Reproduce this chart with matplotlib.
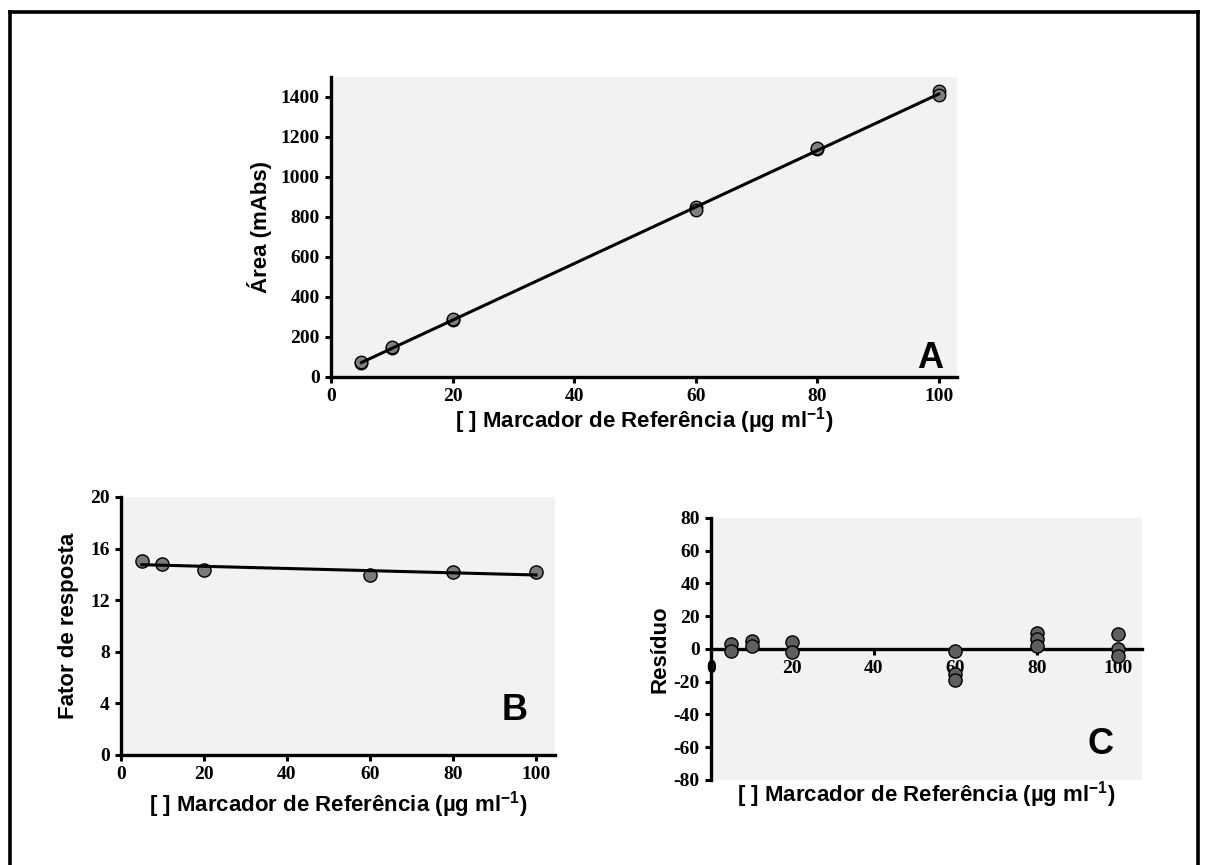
import matplotlib.pyplot as plt
from matplotlib.lines import Line2D

plt.rcParams["axes.unicode_minus"] = False
plt.rcParams["mathtext.fontset"] = "custom"
plt.rcParams["mathtext.bf"] = "Liberation Sans:bold"
plt.rcParams["mathtext.rm"] = "Liberation Sans:bold"
plt.rcParams["mathtext.default"] = "bf"

# Panel A: calibration curve
conc_a = [5, 5, 10, 10, 20, 20, 60, 60, 80, 80, 100, 100]
area_a = [72, 76, 145, 150, 285, 289, 852, 833, 1140, 1144, 1432, 1410]
fit_a_x = [5, 100]
fit_a_y = [72, 1415]

# Panel B: response factor
conc_b = [5, 10, 20, 60, 80, 100]
factor_b = [15.0, 14.82, 14.32, 13.95, 14.22, 14.15]
fit_b_x = [5, 100]
fit_b_y = [14.75, 13.95]

# Panel C: residuals
conc_c = [5, 5, 10, 10, 20, 20, 60, 60, 60, 80, 80, 80, 100, 100, 100]
resid_c = [3, -1, 5, 2, 4, -2, -1.5, -15, -19, 10, 6, 2, 9, 0, -4]

XLABEL = r"[ ] Marcador de Referência (µg ml$^{-1}$)"
TICK_FONT = dict(family="Liberation Serif", weight="bold", size=14)
LABEL_FONT = dict(family="Liberation Sans", weight="bold", size=16)
LETTER_FONT = dict(family="Liberation Sans", weight="bold", size=26)
BG = "#f2f2f2"


def style_axes(ax):
    ax.set_facecolor(BG)
    for side in ["top", "right"]:
        ax.spines[side].set_visible(False)
    for side in ["left", "bottom"]:
        ax.spines[side].set_linewidth(2.4)
    ax.tick_params(direction="out", length=4, width=2.2, pad=4)
    for lbl in ax.get_xticklabels() + ax.get_yticklabels():
        lbl.set_fontfamily(TICK_FONT["family"])
        lbl.set_fontweight(TICK_FONT["weight"])
        lbl.set_fontsize(TICK_FONT["size"])


fig = plt.figure(figsize=(12.05, 8.65), dpi=100)

# page border
for xs, ys in [([10, 10], [0, 853]), ([10, 1198], [853, 853]), ([1198, 1198], [853, 0])]:
    fig.add_artist(Line2D([x / 1205 for x in xs], [y / 865 for y in ys],
                          color="black", linewidth=2.6, transform=fig.transFigure))

# ---- A
ax_a = fig.add_axes([0.2747, 0.5642, 0.5195, 0.3468])
ax_a.plot(conc_a, area_a, "o", ms=9, mfc="#808080", mec="black", mew=1.0, zorder=2)
ax_a.plot(fit_a_x, fit_a_y, color="black", lw=2.2, zorder=3)
ax_a.set_xlim(0, 103)
ax_a.set_ylim(0, 1500)
ax_a.set_xticks([0, 20, 40, 60, 80, 100])
ax_a.set_yticks(range(0, 1401, 200))
style_axes(ax_a)
ax_a.set_xlabel(XLABEL, labelpad=0, **LABEL_FONT)
ax_a.set_ylabel("Área (mAbs)", labelpad=6, **LABEL_FONT)
ax_a.text(0.957, 0.063, "A", transform=ax_a.transAxes, ha="center", va="center", **LETTER_FONT)

# ---- B
ax_b = fig.add_axes([0.1004, 0.1272, 0.3602, 0.2983])
ax_b.plot(conc_b, factor_b, "o", ms=9.5, mfc="#7a7a7a", mec="black", mew=1.0, zorder=2)
ax_b.plot(fit_b_x, fit_b_y, color="black", lw=2.2, zorder=3)
ax_b.set_xlim(0, 104.6)
ax_b.set_ylim(0, 20)
ax_b.set_xticks([0, 20, 40, 60, 80, 100])
ax_b.set_yticks([0, 4, 8, 12, 16, 20])
style_axes(ax_b)
ax_b.set_xlabel(XLABEL, labelpad=4, **LABEL_FONT)
ax_b.set_ylabel("Fator de resposta", labelpad=8, **LABEL_FONT)
ax_b.text(0.908, 0.174, "B", transform=ax_b.transAxes, ha="center", va="center", **LETTER_FONT)

# ---- C
ax_c = fig.add_axes([0.590, 0.0983, 0.3577, 0.3029])
ax_c.spines["bottom"].set_position(("data", 0))
ax_c.plot(conc_c, resid_c, "o", ms=9.5, mfc="#5f5f5f", mec="black", mew=1.0, zorder=4)
ax_c.set_xlim(0, 105.8)
ax_c.set_ylim(-80, 80)
ax_c.set_xticks([0, 20, 40, 60, 80, 100])
ax_c.set_yticks(range(-80, 81, 20))
style_axes(ax_c)
ax_c.set_xlabel(XLABEL, **LABEL_FONT)
ax_c.xaxis.set_label_coords(0.5, 0.005)
ax_c.set_ylabel("Resíduo", labelpad=2, **LABEL_FONT)
ax_c.text(0.903, 0.134, "C", transform=ax_c.transAxes, ha="center", va="center", **LETTER_FONT)

fig.savefig("out.png", dpi=100)
